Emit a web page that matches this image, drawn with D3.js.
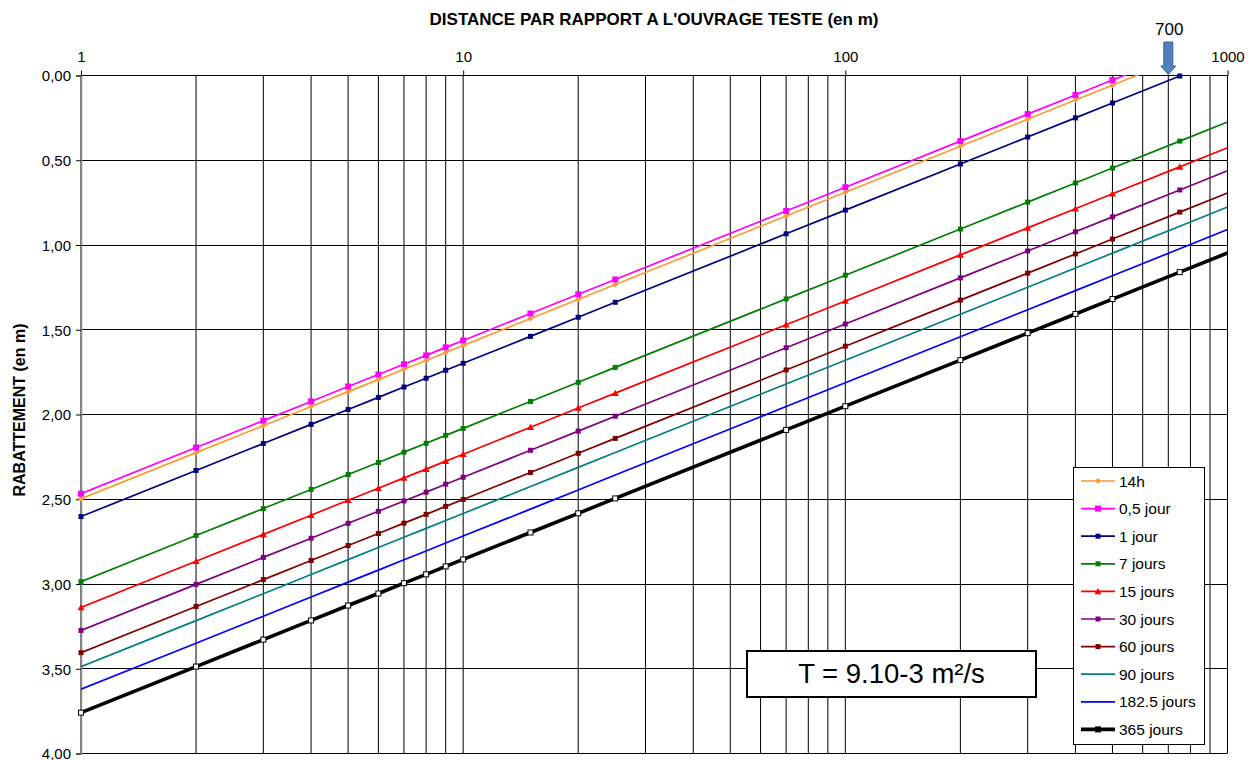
<!DOCTYPE html>
<html>
<head>
<meta charset="utf-8">
<script src="https://cdn.jsdelivr.net/npm/d3@7"></script>
<style>
  html, body { margin: 0; padding: 0; background: #fff; }
  svg { display: block; font-family: "Liberation Sans", Arial, sans-serif; }
</style>
</head>
<body>
<svg id="chart" width="1260" height="760"></svg>
<script>
// ---------- DATA ----------
const distances = [1, 2, 3, 4, 5, 6, 7, 8, 9, 10, 15, 20, 25, 70, 100, 200, 300, 400, 500, 750, 1000];

const s14h   = [2.500, 2.228, 2.069, 1.956, 1.868, 1.797, 1.736, 1.684, 1.637, 1.596, 1.437, 1.324, 1.236, 0.832, 0.692, 0.420, 0.261, 0.148, 0.060, -0.099, -0.212];
const s05j   = [2.470, 2.198, 2.039, 1.926, 1.838, 1.767, 1.706, 1.654, 1.607, 1.566, 1.407, 1.294, 1.206, 0.802, 0.662, 0.390, 0.231, 0.118, 0.030, -0.129, -0.242];
const s1j    = [2.605, 2.333, 2.174, 2.061, 1.973, 1.902, 1.841, 1.789, 1.742, 1.701, 1.542, 1.429, 1.341, 0.937, 0.797, 0.525, 0.366, 0.253, 0.165, 0.006, -0.107];
const s7j    = [2.989, 2.717, 2.558, 2.445, 2.357, 2.286, 2.225, 2.173, 2.126, 2.085, 1.926, 1.813, 1.725, 1.321, 1.181, 0.909, 0.750, 0.637, 0.549, 0.390, 0.277];
const s15j   = [3.141, 2.869, 2.710, 2.597, 2.509, 2.438, 2.377, 2.325, 2.278, 2.237, 2.078, 1.965, 1.877, 1.473, 1.333, 1.061, 0.902, 0.789, 0.701, 0.542, 0.429];
const s30j   = [3.277, 3.005, 2.846, 2.733, 2.645, 2.574, 2.513, 2.461, 2.414, 2.373, 2.214, 2.101, 2.013, 1.609, 1.469, 1.197, 1.038, 0.925, 0.837, 0.678, 0.565];
const s60j   = [3.408, 3.136, 2.977, 2.864, 2.776, 2.705, 2.644, 2.592, 2.545, 2.504, 2.345, 2.232, 2.144, 1.740, 1.600, 1.328, 1.169, 1.056, 0.968, 0.809, 0.696];
const s90j   = [3.491, 3.219, 3.060, 2.947, 2.859, 2.788, 2.727, 2.675, 2.628, 2.587, 2.428, 2.315, 2.227, 1.823, 1.683, 1.411, 1.252, 1.139, 1.051, 0.892, 0.779];
const s182j  = [3.624, 3.352, 3.193, 3.080, 2.992, 2.921, 2.860, 2.808, 2.761, 2.720, 2.561, 2.448, 2.360, 1.956, 1.816, 1.544, 1.385, 1.272, 1.184, 1.025, 0.912];
const s365j  = [3.762, 3.490, 3.331, 3.218, 3.130, 3.059, 2.998, 2.946, 2.899, 2.858, 2.699, 2.586, 2.498, 2.094, 1.954, 1.682, 1.523, 1.410, 1.322, 1.163, 1.050];

const seriesNames = ["14h", "0,5 jour", "1 jour", "7 jours", "15 jours", "30 jours", "60 jours", "90 jours", "182.5 jours", "365 jours"];
const seriesValues = [s14h, s05j, s1j, s7j, s15j, s30j, s60j, s90j, s182j, s365j];

const xTickValues = [1, 10, 100, 1000];
const yTickValues = [0, 0.5, 1, 1.5, 2, 2.5, 3, 3.5, 4];

const titleText = "DISTANCE PAR RAPPORT A L'OUVRAGE TESTE (en m)";
const yTitleText = "RABATTEMENT (en m)";
const boxText = "T = 9.10-3 m²/s";
const arrowValue = 700;

// ---------- STYLES ----------
const styles = [
  { color: "#FF9933", width: 1.7, marker: "diamond", size: 5 },
  { color: "#FF00FF", width: 1.7, marker: "square", size: 6 },
  { color: "#000080", width: 1.7, marker: "square", size: 5 },
  { color: "#008000", width: 1.7, marker: "square", size: 5 },
  { color: "#FF0000", width: 1.7, marker: "triangle", size: 6 },
  { color: "#800080", width: 1.7, marker: "square", size: 5 },
  { color: "#800000", width: 1.7, marker: "square", size: 5 },
  { color: "#008080", width: 1.7, marker: "none", size: 0 },
  { color: "#0000FF", width: 1.7, marker: "none", size: 0 },
  { color: "#000000", width: 3.6, marker: "hollow", size: 5 }
];

// ---------- LAYOUT ----------
const svg = d3.select("#chart");
const pLeft = 81, pRight = 1227.5, pTop = 75, pBottom = 753;
const x = d3.scaleLog().domain([1, 1000]).range([pLeft, pRight]);
const y = d3.scaleLinear().domain([0, 4]).range([pTop, pBottom]);
const font = "'Liberation Sans', Arial, sans-serif";

// clip
svg.append("defs").append("clipPath").attr("id", "plotclip")
  .append("rect").attr("x", pLeft).attr("y", pTop).attr("width", pRight - pLeft).attr("height", pBottom - pTop);

// vertical grid (log minor)
const gridX = [];
[1, 10, 100].forEach(d => { for (let k = 1; k <= 9; k++) gridX.push(d * k); });
gridX.push(1000);
svg.append("g").selectAll("line").data(gridX).join("line")
  .attr("x1", d => x(d)).attr("x2", d => x(d))
  .attr("y1", pTop).attr("y2", pBottom)
  .attr("stroke", "#000").attr("stroke-width", 1);

// horizontal grid
svg.append("g").selectAll("line").data(yTickValues).join("line")
  .attr("x1", pLeft).attr("x2", pRight)
  .attr("y1", d => Math.round(y(d)) + 0.5).attr("y2", d => Math.round(y(d)) + 0.5)
  .attr("stroke", "#000").attr("stroke-width", 1);

// left axis
const yAxis = d3.axisLeft(y).tickValues(yTickValues).tickSize(5).tickPadding(5)
  .tickFormat(d => d3.format(".2f")(d).replace(".", ","));
const gy = svg.append("g").attr("transform", `translate(${pLeft},0.5)`).call(yAxis);
gy.select(".domain").attr("stroke", "#888").attr("stroke-width", 1.5);
gy.selectAll(".tick line").attr("stroke", "#000");
gy.selectAll("text").attr("font-size", 15).attr("font-family", font).attr("fill", "#000").attr("dy", "0.35em");

// top axis
const xAxis = d3.axisTop(x).tickValues(xTickValues).tickSize(5).tickPadding(9)
  .tickFormat(d3.format("d"));
const gx = svg.append("g").attr("transform", `translate(0,${pTop + 0.5})`).call(xAxis);
gx.select(".domain").remove();
gx.selectAll(".tick line").attr("stroke", "#000");
gx.selectAll("text").attr("font-size", 15).attr("font-family", font).attr("fill", "#000");

// series lines
const line = d3.line().x(d => x(d[0])).y(d => y(d[1]));
const gLines = svg.append("g").attr("clip-path", "url(#plotclip)");
seriesValues.forEach((vals, i) => {
  const pts = distances.map((d, j) => [d, vals[j]]);
  gLines.append("path").datum(pts)
    .attr("d", line).attr("fill", "none")
    .attr("stroke", styles[i].color).attr("stroke-width", styles[i].width)
    .attr("stroke-linejoin", "round");
});

// markers
function drawMarker(g, cx, cy, st, legend) {
  const s = st.size;
  if (st.marker === "square") {
    g.append("rect").attr("x", cx - s / 2).attr("y", cy - s / 2).attr("width", s).attr("height", s)
      .attr("fill", st.color);
  } else if (st.marker === "diamond") {
    const r = s / 2 + 0.5;
    g.append("path").attr("d", `M${cx},${cy - r}L${cx + r},${cy}L${cx},${cy + r}L${cx - r},${cy}Z`)
      .attr("fill", st.color);
  } else if (st.marker === "triangle") {
    const r = s / 2 + 0.5;
    g.append("path").attr("d", `M${cx},${cy - r}L${cx + r},${cy + r * 0.8}L${cx - r},${cy + r * 0.8}Z`)
      .attr("fill", st.color);
  } else if (st.marker === "hollow") {
    g.append("rect").attr("x", cx - s / 2).attr("y", cy - s / 2).attr("width", s).attr("height", s)
      .attr("fill", legend ? "#000" : "#fff").attr("stroke", "#000").attr("stroke-width", 1);
  }
}
const gMarks = svg.append("g");
seriesValues.forEach((vals, i) => {
  if (styles[i].marker === "none") return;
  distances.forEach((d, j) => {
    if (d >= 1000) return;
    const v = vals[j];
    if (v < -0.005 || v > 4) return;
    drawMarker(gMarks, x(d), y(v), styles[i], false);
  });
});

// title
svg.append("text").attr("x", 654).attr("y", 25).attr("text-anchor", "middle")
  .attr("font-family", font).attr("font-weight", "bold").attr("font-size", 17)
  .text(titleText);

// y title
svg.append("text").attr("transform", "translate(25,410) rotate(-90)").attr("text-anchor", "middle")
  .attr("font-family", font).attr("font-weight", "bold").attr("font-size", 16)
  .text(yTitleText);

// arrow at 700
const ax = x(arrowValue);
svg.append("path")
  .attr("d", `M${ax - 4.5},42 L${ax + 4.5},42 L${ax + 4.5},66 L${ax + 7.5},66 L${ax},74.5 L${ax - 7.5},66 L${ax - 4.5},66 Z`)
  .attr("fill", "#4F81BD").attr("stroke", "#3A6598").attr("stroke-width", 1);
svg.append("text").attr("x", ax + 1).attr("y", 35).attr("text-anchor", "middle")
  .attr("font-family", font).attr("font-size", 17).text(String(arrowValue));

// legend
const lg = svg.append("g");
lg.append("rect").attr("x", 1073.5).attr("y", 467.5).attr("width", 131).attr("height", 277)
  .attr("fill", "#fff").attr("stroke", "#000").attr("stroke-width", 1);
seriesNames.forEach((name, i) => {
  const cy = 481 + i * 27.6;
  lg.append("line").attr("x1", 1081).attr("x2", 1115).attr("y1", cy).attr("y2", cy)
    .attr("stroke", styles[i].color).attr("stroke-width", styles[i].width);
  drawMarker(lg, 1098, cy, styles[i], true);
  lg.append("text").attr("x", 1119).attr("y", cy + 5.5)
    .attr("font-family", font).attr("font-size", 15.5).text(name);
});

// T box
const tb = svg.append("g");
tb.append("rect").attr("x", 747).attr("y", 651).attr("width", 289).attr("height", 46)
  .attr("fill", "#fff").attr("stroke", "#000").attr("stroke-width", 2);
tb.append("text").attr("x", 891.5).attr("y", 683).attr("text-anchor", "middle")
  .attr("font-family", font).attr("font-size", 27.5).text(boxText);
</script>
</body>
</html>
